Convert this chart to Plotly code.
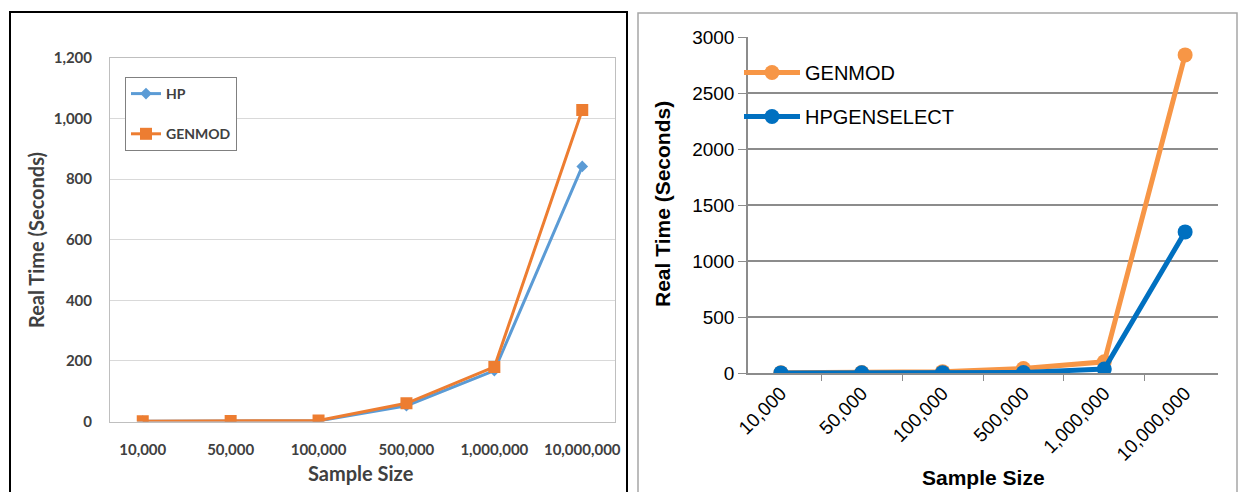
import plotly.graph_objects as go

# Sample sizes shared by both benchmarks
sample_sizes = ["10,000", "50,000", "100,000", "500,000", "1,000,000", "10,000,000"]

# Left panel: HP procedure vs GENMOD (real time, seconds)
left_hp = [1, 1, 2, 52, 168, 842]
left_genmod = [1, 2, 3, 60, 180, 1028]

# Right panel: GENMOD vs HPGENSELECT (real time, seconds)
right_genmod = [2, 5, 12, 40, 100, 2840]
right_hpgenselect = [1, 2, 3, 5, 36, 1260]

W, H = 1244, 492


def px(x):
    return x / W


def py(y):
    return 1 - y / H


LFONT = "Lato"
LCOL = "#404040"
RFONT = "Liberation Sans, Arial"

fig = go.Figure()

# ---- left chart ----
fig.add_trace(go.Scatter(
    x=sample_sizes, y=left_hp, name="HP", mode="lines+markers",
    line=dict(color="#5B9BD5", width=3),
    marker=dict(symbol="diamond", size=9, color="#5B9BD5"),
    xaxis="x", yaxis="y", legend="legend", legendgroup="a",
))
fig.add_trace(go.Scatter(
    x=sample_sizes, y=left_genmod, name="GENMOD", mode="lines+markers",
    line=dict(color="#ED7D31", width=3),
    marker=dict(symbol="square", size=12, color="#ED7D31"),
    xaxis="x", yaxis="y", legend="legend", legendgroup="b",
))

# ---- right chart ----
fig.add_trace(go.Scatter(
    x=sample_sizes, y=right_genmod, name="GENMOD", mode="lines+markers",
    line=dict(color="#F79646", width=5),
    marker=dict(symbol="circle", size=15, color="#F79646"),
    xaxis="x2", yaxis="y2", legend="legend2", legendgroup="c",
))
fig.add_trace(go.Scatter(
    x=sample_sizes, y=right_hpgenselect, name="HPGENSELECT", mode="lines+markers",
    line=dict(color="#0070C0", width=5),
    marker=dict(symbol="circle", size=15, color="#0070C0"),
    xaxis="x2", yaxis="y2", legend="legend2", legendgroup="d",
))

fig.update_layout(
    width=W, height=H,
    margin=dict(l=0, r=0, t=0, b=0, autoexpand=False),
    paper_bgcolor="white", plot_bgcolor="white",
    xaxis=dict(
        domain=[px(110), px(615)], type="category", automargin=False,
        showgrid=False, showline=True, mirror=True, linecolor="#BFBFBF", linewidth=1,
        ticks="", tickfont=dict(family=LFONT, size=15, color=LCOL, weight="bold"),
        ticklabelstandoff=14, fixedrange=True,
    ),
    yaxis=dict(
        domain=[py(421.5), py(58)], range=[0, 1200], dtick=200, tickformat=",",
        automargin=False,
        showgrid=True, gridcolor="#D9D9D9", gridwidth=1,
        showline=True, mirror=True, linecolor="#BFBFBF", linewidth=1,
        zeroline=False, ticks="",
        tickfont=dict(family=LFONT, size=15, color=LCOL, weight="bold"),
        ticklabelstandoff=14, fixedrange=True,
    ),
    xaxis2=dict(
        domain=[px(748), px(1218)], type="category", anchor="y2", automargin=False,
        showgrid=False, showline=True, linecolor="#8C8C8C", linewidth=1.5,
        ticks="outside", ticklen=6, tickcolor="#8C8C8C", tickson="boundaries",
        tickangle=-45, tickfont=dict(family=RFONT, size=19, color="black"),
        fixedrange=True,
    ),
    yaxis2=dict(
        domain=[py(373), py(37)], range=[0, 3000], dtick=500, tickformat="d",
        anchor="x2", automargin=False,
        showgrid=True, gridcolor="#8C8C8C", gridwidth=1.5,
        showline=True, linecolor="#8C8C8C", linewidth=1.5,
        zeroline=False, ticks="outside", ticklen=8, tickcolor="#8C8C8C",
        tickfont=dict(family=RFONT, size=19, color="black"),
        fixedrange=True,
    ),
    legend=dict(
        x=px(125), y=py(77), xanchor="left", yanchor="top",
        bgcolor="white", bordercolor="#808080", borderwidth=1,
        font=dict(family=LFONT, size=14, color=LCOL, weight="bold"),
        tracegroupgap=19, itemwidth=30,
    ),
    legend2=dict(
        x=px(739), y=py(53), xanchor="left", yanchor="top",
        bgcolor="rgba(0,0,0,0)", borderwidth=0,
        font=dict(family=RFONT, size=20, color="black"),
        tracegroupgap=15, itemwidth=56,
    ),
    showlegend=True,
)

annotations = [
    # left axis titles
    dict(text="Sample Size", x=px(361), y=py(473), xref="paper", yref="paper",
         xanchor="center", yanchor="middle", showarrow=False,
         font=dict(family=LFONT, size=20, color=LCOL, weight="bold")),
    dict(text="Real Time (Seconds)", x=px(36), y=py(240), xref="paper", yref="paper",
         xanchor="center", yanchor="middle", showarrow=False, textangle=-90,
         font=dict(family=LFONT, size=20, color=LCOL, weight="bold")),
    # right axis titles
    dict(text="<b>Sample Size</b>", x=px(983), y=py(477), xref="paper", yref="paper",
         xanchor="center", yanchor="middle", showarrow=False,
         font=dict(family=RFONT, size=21, color="black")),
    dict(text="<b>Real Time (Seconds)</b>", x=px(663), y=py(204), xref="paper", yref="paper",
         xanchor="center", yanchor="middle", showarrow=False, textangle=-90,
         font=dict(family=RFONT, size=21, color="black")),
]
fig.update_layout(annotations=annotations)

# panel frames
fig.update_layout(shapes=[
    dict(type="rect", xref="paper", yref="paper",
         x0=px(10), x1=px(627), y0=py(500), y1=py(12),
         line=dict(color="black", width=2), fillcolor="rgba(0,0,0,0)", layer="below"),
    dict(type="rect", xref="paper", yref="paper",
         x0=px(638), x1=px(1237), y0=py(500), y1=py(13),
         line=dict(color="#A6A6A6", width=1.5), fillcolor="rgba(0,0,0,0)", layer="below"),
])

fig.write_html("out.html")
